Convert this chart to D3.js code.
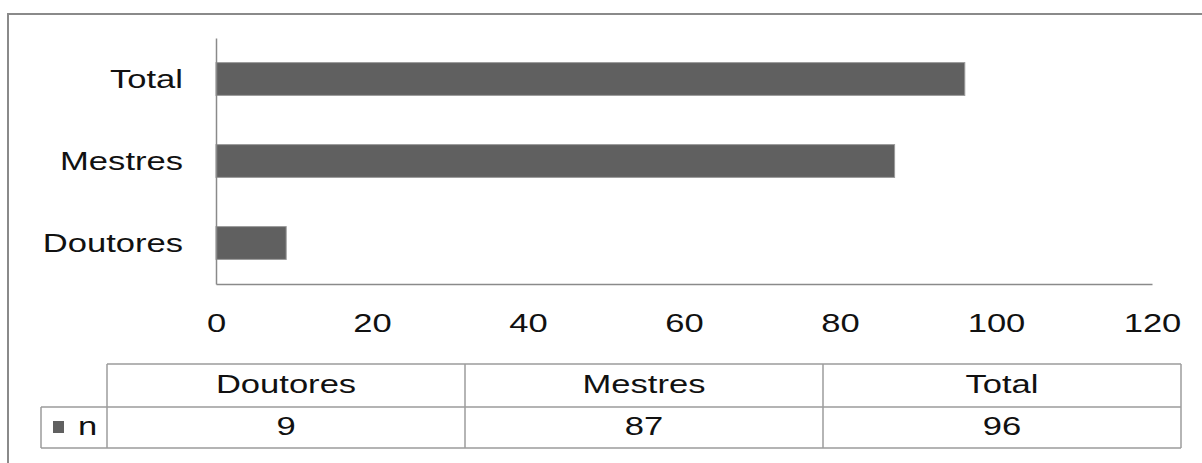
<!DOCTYPE html>
<html>
<head>
<meta charset="utf-8">
<script src="https://cdn.jsdelivr.net/npm/d3@7"></script>
<style>
  html, body { margin: 0; padding: 0; background: #fff; }
  svg { display: block; font-family: "Liberation Sans", Arial, sans-serif; }
</style>
</head>
<body>
<div id="chart"></div>
<script>
const categories = ['Doutores', 'Mestres', 'Total'];
const values = [9, 87, 96];
const seriesName = 'n';
const xTicks = [0, 20, 40, 60, 80, 100, 120];

const W = 1202, H = 463;
const stretch = 1.33;   // the original text is drawn wide
const fontSize = 26;
const barColor = '#606060';
const lineColor = '#8a8a8a';

const svg = d3.select('#chart').append('svg')
  .attr('width', W)
  .attr('height', H);

// outer frame (only top and left edges are visible)
svg.append('path')
  .attr('d', `M8,${H} L8,14 L${W},14`)
  .attr('fill', 'none')
  .attr('stroke', lineColor)
  .attr('stroke-width', 2);

const data = categories.map((c, i) => ({ name: c, value: values[i] }));

const x = d3.scaleLinear()
  .domain([0, 120])
  .range([216, 1152]);

const y = d3.scaleBand()
  .domain(categories.slice().reverse())
  .range([38, 284])
  .paddingInner(0.6)
  .paddingOuter(0.3);

// bars
svg.append('g')
  .selectAll('rect')
  .data(data)
  .join('rect')
  .attr('x', x(0))
  .attr('y', d => y(d.name))
  .attr('width', d => x(d.value) - x(0))
  .attr('height', y.bandwidth())
  .attr('fill', barColor)
  .attr('stroke', '#9a9a9a')
  .attr('stroke-width', 1);

// x axis
const gx = svg.append('g')
  .attr('transform', `translate(0,284)`)
  .call(d3.axisBottom(x).tickValues(xTicks).tickSize(0).tickPadding(0));
gx.select('.domain').attr('stroke', lineColor).attr('stroke-width', 1.5);
gx.selectAll('text')
  .attr('y', 48)
  .attr('dy', 0)
  .attr('transform', `scale(${stretch},1)`)
  .style('font-size', fontSize + 'px')
  .style('font-family', '"Liberation Sans", Arial, sans-serif')
  .attr('fill', '#111');

// y axis
const gy = svg.append('g')
  .attr('transform', `translate(216,0)`)
  .call(d3.axisLeft(y).tickSize(0).tickPadding(0));
gy.select('.domain').attr('stroke', lineColor).attr('stroke-width', 1.5);
gy.selectAll('text')
  .attr('x', -33 / stretch)
  .attr('dy', '0.36em')
  .attr('transform', `scale(${stretch},1)`)
  .style('font-size', fontSize + 'px')
  .style('font-family', '"Liberation Sans", Arial, sans-serif')
  .attr('fill', '#111');

// data table below the chart
const col = d3.scaleBand()
  .domain(categories)
  .range([107, 1181])
  .padding(0);

const rowTop = 364, rowMid = 407, rowBot = 448, legendLeft = 41;
const table = svg.append('g')
  .attr('fill', 'none')
  .attr('stroke', '#9c9c9c')
  .attr('stroke-width', 1.5);

table.append('path')
  .attr('d', [
    `M${col.range()[0]},${rowTop} H${col.range()[1]}`,
    `M${legendLeft},${rowMid} H${col.range()[1]}`,
    `M${legendLeft},${rowBot} H${col.range()[1]}`,
    `M${legendLeft},${rowMid} V${rowBot}`
  ].join(' '));

table.selectAll('line.col')
  .data(categories.concat(['end']))
  .join('line')
  .attr('class', 'col')
  .attr('x1', (d, i) => i < categories.length ? col(d) : col.range()[1])
  .attr('x2', (d, i) => i < categories.length ? col(d) : col.range()[1])
  .attr('y1', rowTop)
  .attr('y2', rowBot);

function stretchedText(g, tx, ty, txt, anchor) {
  g.append('g')
    .attr('transform', `translate(${tx},${ty}) scale(${stretch},1)`)
    .append('text')
    .attr('text-anchor', anchor || 'middle')
    .attr('font-size', fontSize)
    .attr('fill', '#111')
    .text(txt);
}

const cells = svg.append('g');
data.forEach(d => {
  const cx = col(d.name) + col.bandwidth() / 2;
  stretchedText(cells, cx, 393, d.name);
  stretchedText(cells, cx, 435, d.value);
});

// legend key in the table
cells.append('rect')
  .attr('x', 53)
  .attr('y', 421)
  .attr('width', 11)
  .attr('height', 12)
  .attr('fill', barColor);
stretchedText(cells, 78, 435, seriesName, 'start');
</script>
</body>
</html>
